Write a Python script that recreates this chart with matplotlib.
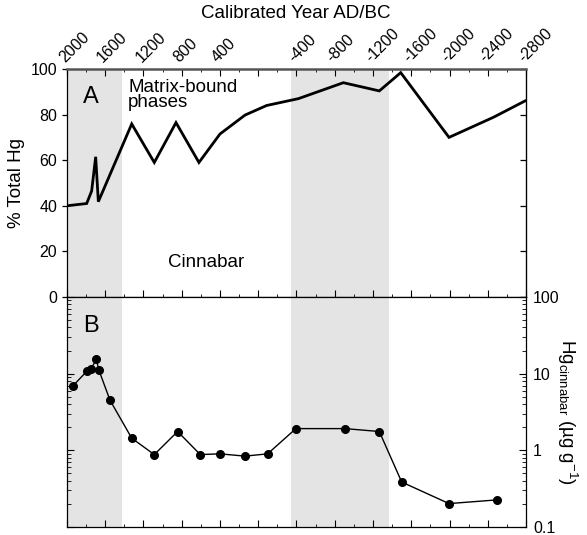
import numpy as np
import matplotlib.pyplot as plt
from matplotlib.ticker import MultipleLocator, LogLocator, NullFormatter

plt.rcParams["font.family"] = ["Liberation Sans", "DejaVu Sans"]
plt.rcParams["mathtext.fontset"] = "custom"
plt.rcParams["mathtext.rm"] = "Liberation Sans"
plt.rcParams["mathtext.it"] = "Liberation Sans"

# ── data ───────────────────────────────────────────────────────────────────────
# panel A: % of total Hg in matrix-bound phases
a_year = [2000, 1794, 1742, 1700, 1672, 1323, 1087, 860, 620, 400, 138,
          -88, -420, -890, -1266, -1490, -1995, -2458, -2790]
a_pct = [40.0, 41.0, 46.5, 61.5, 41.8, 75.9, 59.0, 76.5, 59.0, 71.5, 79.8,
         84.0, 87.0, 94.0, 90.4, 98.4, 70.0, 78.8, 86.0]

# panel B: Hg in cinnabar (ug/g)
b_year = [1934, 1794, 1749, 1694, 1665, 1550, 1323, 1087, 843, 606, 400, 138,
          -98, -394, -907, -1266, -1500, -1995, -2500]
b_hg = [7.0, 10.7, 11.4, 15.4, 11.0, 4.5, 1.44, 0.88, 1.76, 0.88, 0.90, 0.84,
        0.90, 1.92, 1.92, 1.76, 0.386, 0.202, 0.226]

# shaded periods (calibrated year)
shade_spans = [(2100, 1425), (-343, -1367)]

year_ticks = list(range(2000, -2801, -400))
year_labels = [str(y) if y != 0 else "" for y in year_ticks]

SHADE = "#e4e4e4"
TICK_FS = 11.5

# ── figure ─────────────────────────────────────────────────────────────────────
fig = plt.figure(figsize=(5.87, 5.35), dpi=100)
L, R = 0.1141, 0.8961
axA = fig.add_axes([L, 0.4449, R - L, 0.871 - 0.4449])
axB = fig.add_axes([L, 0.01495, R - L, 0.4449 - 0.01495])

for ax in (axA, axB):
    for x0, x1 in shade_spans:
        ax.axvspan(x0, x1, color=SHADE, lw=0, zorder=0)
    ax.set_xlim(2000, -2800)
    ax.xaxis.set_major_locator(MultipleLocator(400))
    ax.xaxis.set_minor_locator(MultipleLocator(200))
    for s in ax.spines.values():
        s.set_linewidth(0.9)

# panel A
axA.plot(a_year, a_pct, color="black", lw=2.0, solid_joinstyle="miter", zorder=3)
axA.set_ylim(0, 100)
axA.set_yticks(range(0, 101, 20))
axA.set_xticks(year_ticks)
axA.set_xticklabels(year_labels)
axA.tick_params(axis="x", which="both", direction="in", top=True, bottom=True,
                labeltop=True, labelbottom=False)
axA.tick_params(axis="x", which="major", length=5)
axA.tick_params(axis="x", which="minor", length=2.5)
for lab in axA.get_xticklabels():
    lab.set_rotation(45)
    lab.set_rotation_mode("anchor")
    lab.set_ha("left")
    lab.set_va("bottom")
    lab.set_fontsize(TICK_FS)
axA.tick_params(axis="x", which="major", pad=3)
axA.tick_params(axis="y", direction="out", length=3.6, width=0.9,
                labelsize=TICK_FS, right=False)
axA.spines["top"].set_color("#555555")
axA.spines["top"].set_linewidth(1.8)
rA = axA.secondary_yaxis("right")
rA.set_yticks(range(0, 101, 20))
rA.tick_params(direction="in", length=4, width=0.9, labelright=False)
axA.set_ylabel("% Total Hg", fontsize=13.5, labelpad=4)

axA.text(0.035, 0.85, "A", transform=axA.transAxes, fontsize=17)
axA.text(0.133, 0.955, "Matrix-bound\nphases", transform=axA.transAxes,
         fontsize=13.5, va="top", linespacing=0.85)
axA.text(0.22, 0.13, "Cinnabar", transform=axA.transAxes, fontsize=13.5)

# panel B
axB.semilogy(b_year, b_hg, color="black", lw=1.0, marker="o", ms=5.5, zorder=3)
axB.set_ylim(0.1, 100)
axB.tick_params(axis="x", which="both", direction="in", top=False, bottom=True,
                labelbottom=False)
axB.tick_params(axis="x", which="major", length=5)
axB.tick_params(axis="x", which="minor", length=2.5)
axB.yaxis.set_major_locator(LogLocator(base=10))
axB.yaxis.set_minor_locator(LogLocator(base=10, subs=np.arange(2, 10)))
axB.yaxis.set_minor_formatter(NullFormatter())
axB.yaxis.set_major_formatter(plt.FuncFormatter(lambda v, p: f"{v:g}"))
axB.tick_params(axis="y", which="both", direction="in", left=True, right=True,
                labelleft=False, labelright=True, labelsize=TICK_FS, pad=5)
axB.tick_params(axis="y", which="major", length=5)
axB.tick_params(axis="y", which="minor", length=3)
axB.yaxis.set_label_position("right")
axB.set_ylabel("Hg$_{\\mathregular{cinnabar}}$ (\u00b5g g$^{\\mathregular{-1}}$)",
               fontsize=13.5, rotation=270, labelpad=14)

axB.text(0.035, 0.92, "B", transform=axB.transAxes, fontsize=17, va="top")

fig.text(0.504, 0.974, "Calibrated Year AD/BC", fontsize=13.5, ha="center",
         va="center")

fig.savefig("out.png", dpi=100)
